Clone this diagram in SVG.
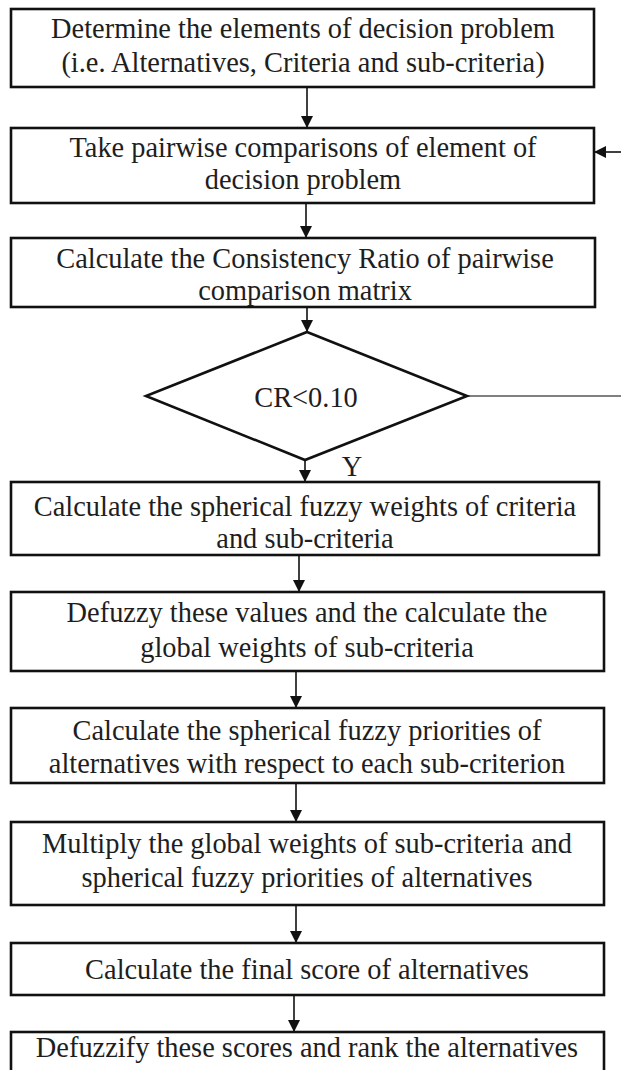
<svg xmlns="http://www.w3.org/2000/svg" width="621" height="1070" viewBox="0 0 621 1070">
<defs>
<marker id="ah" viewBox="0 0 12 12" refX="12" refY="6" markerWidth="12" markerHeight="12" markerUnits="userSpaceOnUse" orient="auto">
<path d="M0,0 L12,6 L0,12 z" fill="#111"/>
</marker>
<style>
.box{fill:#fff;stroke:#111;stroke-width:2.6}
.t{font-family:"Liberation Serif","Times New Roman",serif;font-size:28.4px;fill:#1e1e1e;text-anchor:middle}
.c{stroke:#111;stroke-width:1.6;fill:none}
</style>
</defs>
<rect width="621" height="1070" fill="#fff"/>
<g id="connectors">
<line class="c" x1="307" y1="87" x2="307" y2="128" marker-end="url(#ah)"/>
<line class="c" x1="306" y1="203" x2="306" y2="238" marker-end="url(#ah)"/>
<line class="c" x1="307" y1="307" x2="307" y2="332" marker-end="url(#ah)"/>
<line class="c" x1="305" y1="460" x2="305" y2="482" marker-end="url(#ah)"/>
<line class="c" x1="299" y1="555" x2="299" y2="592" marker-end="url(#ah)"/>
<line class="c" x1="296" y1="671" x2="296" y2="708" marker-end="url(#ah)"/>
<line class="c" x1="296" y1="783" x2="296" y2="822" marker-end="url(#ah)"/>
<line class="c" x1="296" y1="905" x2="296" y2="943" marker-end="url(#ah)"/>
<line class="c" x1="294" y1="995" x2="294" y2="1032" marker-end="url(#ah)"/>
<line x1="467" y1="396" x2="621" y2="396" stroke="#808080" stroke-width="2"/>
<line class="c" x1="621" y1="152" x2="594" y2="152" marker-end="url(#ah)"/>
<text class="t" x="352" y="476">Y</text>
</g>
<g id="n1"><rect class="box" x="11" y="9" width="583" height="78"/>
<text class="t" x="303" y="38">Determine the elements of decision problem</text>
<text class="t" x="303" y="72">(i.e. Alternatives, Criteria and sub-criteria)</text></g>
<g id="n2"><rect class="box" x="11" y="128" width="583" height="75"/>
<text class="t" x="303" y="157">Take pairwise comparisons of element of</text>
<text class="t" x="303" y="189">decision problem</text></g>
<g id="n3"><rect class="box" x="11" y="238" width="584" height="69"/>
<text class="t" x="305" y="268">Calculate the Consistency Ratio of pairwise</text>
<text class="t" x="305" y="300">comparison matrix</text></g>
<g id="n4"><polygon class="box" points="307,332 467,396 305,460 146,396"/>
<text class="t" x="306" y="407">CR&lt;0.10</text></g>
<g id="n5"><rect class="box" x="11" y="482" width="588" height="73"/>
<text class="t" x="305" y="516">Calculate the spherical fuzzy weights of criteria</text>
<text class="t" x="305" y="548">and sub-criteria</text></g>
<g id="n6"><rect class="box" x="11" y="592" width="593" height="79"/>
<text class="t" x="307" y="622">Defuzzy these values and the calculate the</text>
<text class="t" x="307" y="657">global weights of sub-criteria</text></g>
<g id="n7"><rect class="box" x="11" y="708" width="593" height="75"/>
<text class="t" x="307" y="740">Calculate the spherical fuzzy priorities of</text>
<text class="t" x="307" y="773">alternatives with respect to each sub-criterion</text></g>
<g id="n8"><rect class="box" x="11" y="822" width="593" height="83"/>
<text class="t" x="307" y="853">Multiply the global weights of sub-criteria and</text>
<text class="t" x="307" y="887">spherical fuzzy priorities of alternatives</text></g>
<g id="n9"><rect class="box" x="11" y="943" width="593" height="52"/>
<text class="t" x="307" y="979">Calculate the final score of alternatives</text></g>
<g id="n10"><rect class="box" x="11" y="1032" width="593" height="45"/>
<text class="t" x="307" y="1057">Defuzzify these scores and rank the alternatives</text></g>
</svg>
